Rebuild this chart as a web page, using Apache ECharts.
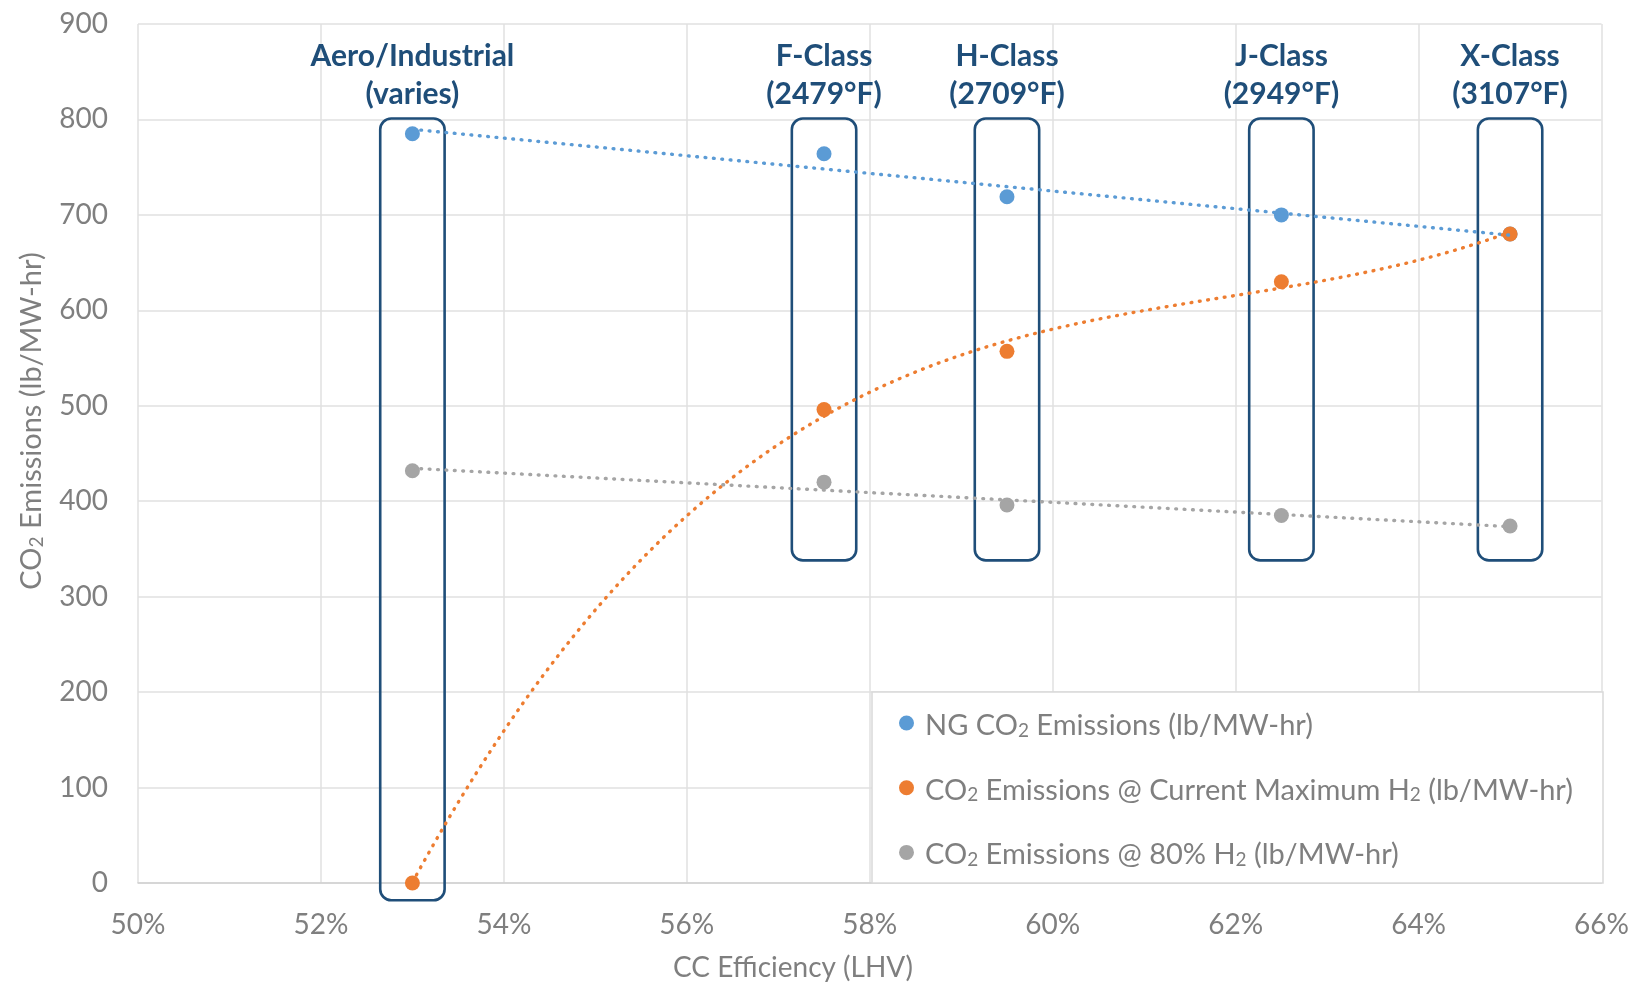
<!DOCTYPE html>
<html>
<head>
<meta charset="utf-8">
<script src="https://cdn.jsdelivr.net/npm/echarts@6/dist/echarts.min.js"></script>
<style>
  html, body { margin: 0; padding: 0; background: #ffffff; }
  #chart { width: 1632px; height: 985px; }
</style>
</head>
<body>
<div id="chart"></div>
<script>
// Gas turbine classes and their combined-cycle efficiency (LHV, %)
const classNames = ['Aero/Industrial', 'F-Class', 'H-Class', 'J-Class', 'X-Class'];
const classNotes = ['(varies)', '(2479°F)', '(2709°F)', '(2949°F)', '(3107°F)'];
const efficiency = [53, 57.5, 59.5, 62.5, 65];

// CO2 emissions, lb/MW-hr
const ngEmissions = [785, 764, 719, 700, 680];
const maxH2Emissions = [0, 496, 557, 630, 680];
const h2_80Emissions = [432, 420, 396, 385, 374];

// Extent of the highlight box around each class (data units)
const boxTop = [801, 801, 801, 801, 801];
const boxBottom = [-18, 338, 338, 338, 338];
const boxHalfWidth = 0.352;

// Axis ticks
const xTicks = [50, 52, 54, 56, 58, 60, 62, 64, 66];
const yTicks = [0, 100, 200, 300, 400, 500, 600, 700, 800, 900];

const seriesNames = [
  'NG CO₂ Emissions (lb/MW-hr)',
  'CO₂ Emissions @ Current Maximum H₂ (lb/MW-hr)',
  'CO₂ Emissions @ 80% H₂ (lb/MW-hr)'
];
const colors = ['#5b9bd5', '#ed7d31', '#a5a5a5'];
const navy = '#1f4e79';
const gray = '#7f7f7f';
const font = 'Lato, "Open Sans", sans-serif';

// Least-squares polynomial trendline
function polyFit(xs, ys, order) {
  const n = order + 1;
  const A = Array.from({ length: n }, () => new Array(n + 1).fill(0));
  for (let k = 0; k < xs.length; k++) {
    for (let i = 0; i < n; i++) {
      for (let j = 0; j < n; j++) A[i][j] += Math.pow(xs[k], i + j);
      A[i][n] += ys[k] * Math.pow(xs[k], i);
    }
  }
  for (let i = 0; i < n; i++) {
    let p = i;
    for (let r = i + 1; r < n; r++) if (Math.abs(A[r][i]) > Math.abs(A[p][i])) p = r;
    const tmp = A[i]; A[i] = A[p]; A[p] = tmp;
    for (let r = 0; r < n; r++) {
      if (r === i) continue;
      const f = A[r][i] / A[i][i];
      for (let c = i; c <= n; c++) A[r][c] -= f * A[i][c];
    }
  }
  return A.map((row, i) => row[n] / row[i]);
}
function trend(xs, ys, order) {
  const x0 = xs.reduce((a, b) => a + b, 0) / xs.length;
  const cx = xs.map(v => v - x0);
  const c = polyFit(cx, ys, order);
  const pts = [];
  const lo = Math.min(...xs), hi = Math.max(...xs);
  const steps = 240;
  for (let s = 0; s <= steps; s++) {
    const x = lo + (hi - lo) * s / steps;
    const t = x - x0;
    let y = 0;
    for (let i = c.length - 1; i >= 0; i--) y = y * t + c[i];
    pts.push([x, y]);
  }
  return pts;
}

const pairs = ys => efficiency.map((x, i) => [x, ys[i]]);
const allSeries = [ngEmissions, maxH2Emissions, h2_80Emissions];
const trendOrders = [1, 3, 1];

function richName(name) {
  const parts = name.split('₂');
  return parts.map((p, i) => '{n|' + p + '}' + (i < parts.length - 1 ? '{s|2}' : '')).join('');
}

const chart = echarts.init(document.getElementById('chart'), null, { renderer: 'canvas' });

const series = [];
// Class boxes with their captions
series.push({
  type: 'custom',
  name: 'classes',
  clip: false,
  silent: true,
  z: 1,
  data: efficiency.map((x, i) => [x, boxTop[i], boxBottom[i], i]),
  renderItem: function (params, api) {
    const x = api.value(0);
    const i = api.value(3);
    const p1 = api.coord([x - boxHalfWidth, api.value(1)]);
    const p2 = api.coord([x + boxHalfWidth, api.value(2)]);
    return {
      type: 'group',
      children: [
        {
          type: 'rect',
          shape: { x: p1[0], y: p1[1], width: p2[0] - p1[0], height: p2[1] - p1[1], r: 11 },
          style: { fill: 'none', stroke: navy, lineWidth: 2.6 }
        },
        {
          type: 'text',
          x: (p1[0] + p2[0]) / 2,
          y: p1[1] - 5,
          style: {
            text: classNames[i] + '\n' + classNotes[i],
            fill: navy,
            font: 'bold 30px ' + font,
            lineHeight: 38,
            align: 'center',
            verticalAlign: 'bottom'
          }
        }
      ]
    };
  }
});
// Trendlines
allSeries.forEach((ys, k) => {
  series.push({
    type: 'line',
    name: 'trend' + k,
    data: trend(efficiency, ys, trendOrders[k]),
    showSymbol: false,
    symbol: 'none',
    silent: true,
    z: 3,
    lineStyle: { color: colors[k], width: 3.4, type: [0.8, 7.6], cap: 'round' }
  });
});
// Data points
allSeries.forEach((ys, k) => {
  series.push({
    type: 'scatter',
    name: seriesNames[k],
    data: pairs(ys),
    symbol: 'circle',
    symbolSize: 15,
    z: 2,
    itemStyle: { color: colors[k], opacity: 1 }
  });
});

const option = {
  backgroundColor: '#ffffff',
  animation: false,
  grid: { left: 138, right: 29, top: 24, bottom: 102, containLabel: false },
  xAxis: {
    type: 'value',
    min: xTicks[0],
    max: xTicks[xTicks.length - 1],
    interval: xTicks[1] - xTicks[0],
    axisLine: { show: true, onZero: false, lineStyle: { color: '#d0d0d0', width: 1.5 } },
    axisTick: { show: false },
    axisLabel: { color: gray, fontSize: 28, fontFamily: font, margin: 28, formatter: '{value}%' },
    splitLine: { show: true, lineStyle: { color: '#e0e0e0', width: 1.5 } }
  },
  yAxis: {
    type: 'value',
    min: yTicks[0],
    max: yTicks[yTicks.length - 1],
    interval: yTicks[1] - yTicks[0],
    axisLine: { show: false },
    axisTick: { show: false },
    axisLabel: { color: gray, fontSize: 28, fontFamily: font, margin: 30 },
    splitLine: { show: true, lineStyle: { color: '#e0e0e0', width: 1.5 } }
  },
  legend: {
    data: seriesNames,
    orient: 'vertical',
    left: 894,
    top: 706,
    itemWidth: 15,
    itemHeight: 15,
    itemGap: 35.7,
    icon: 'circle',
    z: 6,
    formatter: richName,
    textStyle: {
      color: gray,
      fontFamily: font,
      fontSize: 29,
      padding: [0, 0, 0, 6],
      rich: {
        n: { fontSize: 29, fontFamily: font, color: gray, lineHeight: 34, verticalAlign: 'bottom' },
        s: { fontSize: 19, fontFamily: font, color: gray, lineHeight: 22, verticalAlign: 'bottom' }
      }
    }
  },
  graphic: [
    {
      type: 'rect',
      z: 5,
      shape: { x: 872, y: 692, width: 731, height: 191 },
      style: { fill: '#ffffff', stroke: '#d9d9d9', lineWidth: 1.5 }
    },
    {
      type: 'text',
      z: 5,
      x: 793,
      y: 968,
      style: {
        text: 'CC Efficiency (LHV)',
        fill: gray,
        font: '28px ' + font,
        align: 'center',
        verticalAlign: 'middle'
      }
    },
    {
      type: 'text',
      z: 5,
      x: 29,
      y: 421,
      rotation: Math.PI / 2,
      style: {
        text: '{n|CO}{s|2}{n| Emissions (lb/MW-hr)}',
        align: 'center',
        verticalAlign: 'middle',
        rich: {
          n: { fontSize: 29, fontFamily: font, fill: gray, lineHeight: 34, verticalAlign: 'bottom' },
          s: { fontSize: 19, fontFamily: font, fill: gray, lineHeight: 22, verticalAlign: 'bottom' }
        }
      }
    }
  ],
  series: series
};

chart.setOption(option);
</script>
</body>
</html>
